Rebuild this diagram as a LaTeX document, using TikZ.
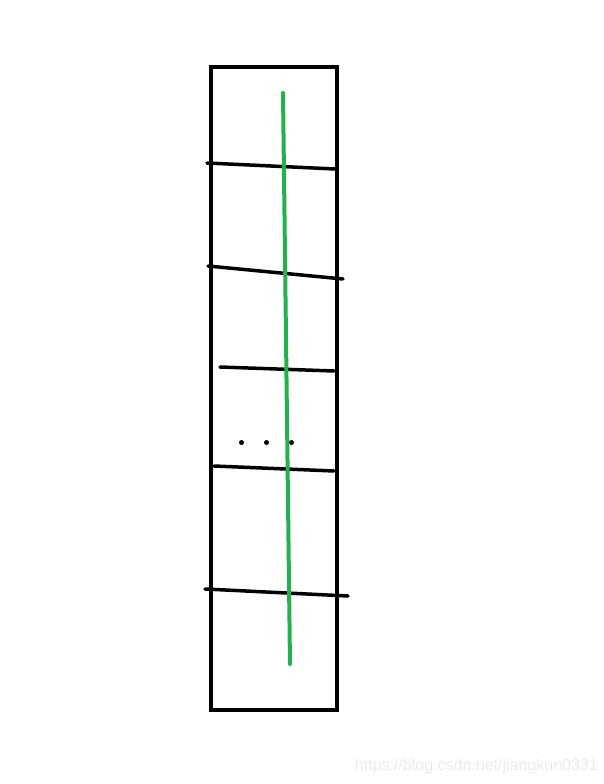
\documentclass[tikz,border=0pt]{standalone}
\usepackage{fontspec}
\setmainfont{Liberation Sans}
\definecolor{paintgreen}{RGB}{34,177,76}
\begin{document}
\begin{tikzpicture}[x=1pt,y=-1pt,
		stroke/.style={line width=3.5pt,line cap=round},
		dot/.style={circle,fill=black,inner sep=0pt,minimum size=5pt}]
			\useasboundingbox (0,0) rectangle (603,784);
			\node[draw,line width=4pt,minimum width=126pt,minimum height=643pt,inner sep=0pt] (box) at (274,388.5) {};
			\coordinate (a1) at (207,163);
			\coordinate (b1) at (335,169);
			\coordinate (a2) at (208,266);
			\coordinate (b2) at (343,279);
			\coordinate (a3) at (220,367);
			\coordinate (b3) at (334,371);
			\coordinate (a4) at (214,466);
			\coordinate (b4) at (334,471);
			\coordinate (a5) at (205,589);
			\coordinate (b5) at (348,596);
			\coordinate (top) at (283,93);
			\coordinate (bot) at (290,664);
			\node[dot] (d1) at (241.5,442.5) {};
			\node[dot] (d2) at (266.5,442.5) {};
			\node[dot] (d3) at (291.5,442.5) {};
			\draw[stroke] (a1) to (b1);
			\draw[stroke] (a2) to (b2);
			\draw[stroke] (a3) to (b3);
			\draw[stroke] (a4) to (b4);
			\draw[stroke] (a5) to (b5);
			\draw[stroke,paintgreen,line width=4pt] (top) to (bot);
			\node[anchor=east,text=black!8,font=\fontsize{16}{18}\selectfont,inner sep=0pt] (mark) at (598,766) {https://blog.csdn.net/jiangkun0331};
		\end{tikzpicture}
\end{document}
